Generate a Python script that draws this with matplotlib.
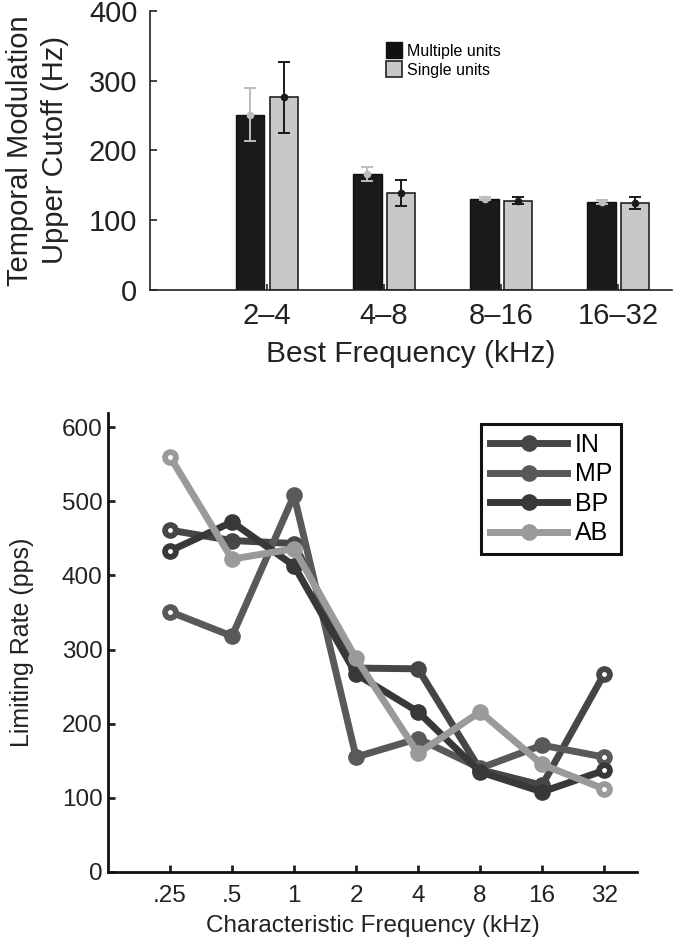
import numpy as np
import matplotlib.pyplot as plt
from matplotlib.patches import Patch

plt.rcParams['font.family'] = ['Liberation Sans', 'DejaVu Sans']

# top panel: upper cutoff by best frequency band
bands = ['2\u20134', '4\u20138', '8\u201316', '16\u201332']
multi = [251, 166, 131, 126]
multi_err = [38, 10, 2, 3]
single = [276, 139, 128, 124.5]
single_err = [51, 19, 5.5, 8]

# bottom panel: limiting rate by characteristic frequency
cf_labels = ['.25', '.5', '1', '2', '4', '8', '16', '32']
rate_IN = [461, 447, 443, 275, 274, 138, 117, 267]
rate_MP = [351, 318, 508, 155, 180, 140, 171, 155]
rate_BP = [433, 472, 413, 267, 216, 135, 108, 137]
rate_AB = [560, 422, 436, 288, 160, 216, 145, 112]

fig = plt.figure(figsize=(6.76, 9.40), dpi=100)

# ---- top bar chart ----
ax1 = fig.add_axes([150 / 676, 1 - 290 / 940, 522 / 676, 279.3 / 940])
x = np.arange(1, len(bands) + 1)
w = 0.24
off = 0.142
ax1.bar(x - off, multi, w, color='#1a1a1a', edgecolor='#111111', linewidth=1)
ax1.bar(x + off, single, w, color='#c8c8c8', edgecolor='#222222', linewidth=1.2)
ax1.errorbar(x - off, multi, yerr=multi_err, fmt='o', color='#bdbdbd', ms=4.5,
             capsize=4, elinewidth=1.4, capthick=1.4)
ax1.errorbar(x + off, single, yerr=single_err, fmt='o', color='#1a1a1a', ms=4.5,
             capsize=4, elinewidth=1.4, capthick=1.4)
ax1.set_xlim(0, 4.46)
ax1.set_ylim(0, 400)
ax1.set_xticks(x)
ax1.set_xticklabels(bands)
ax1.set_yticks([0, 100, 200, 300, 400])
for s in ('top', 'right'):
    ax1.spines[s].set_visible(False)
for s in ('left', 'bottom'):
    ax1.spines[s].set_linewidth(1.2)
    ax1.spines[s].set_color('#222222')
ax1.tick_params(axis='both', direction='in', labelsize=21, colors='#222222', width=1.2)
ax1.tick_params(axis='y', length=5, pad=9)
ax1.tick_params(axis='x', length=4, pad=9)
ax1.set_xlabel('Best Frequency (kHz)', fontsize=21.5, color='#222222', labelpad=7)
ax1.set_ylabel('Temporal Modulation\nUpper Cutoff (Hz)', fontsize=21, color='#222222',
               linespacing=1.3)
ax1.yaxis.set_label_coords(-0.156, 0.5)
handles = [Patch(facecolor='#111111', edgecolor='#111111'),
           Patch(facecolor='#c8c8c8', edgecolor='#222222', linewidth=1.2)]
ax1.legend(handles, ['Multiple units', 'Single units'], frameon=False, fontsize=11.5,
           handlelength=1.0, handleheight=1.2, handletextpad=0.3, labelspacing=0.15,
           borderpad=0, borderaxespad=0, loc='upper left',
           bbox_to_anchor=((386 - 150) / 522, (290 - 42) / 279.3))

# ---- bottom line chart ----
ax2 = fig.add_axes([108 / 676, 1 - 872 / 940, 529 / 676, 459 / 940])
xi = np.arange(1, len(cf_labels) + 1)
series = [('IN', rate_IN, '#464646'), ('MP', rate_MP, '#595959'),
          ('BP', rate_BP, '#383838'), ('AB', rate_AB, '#9a9a9a')]
for name, vals, col in series:
    ax2.plot(xi, vals, '-o', color=col, lw=5, ms=12, mew=0, mfc=col, label=name)
    # open ends: small hole at the first and last points
    ax2.plot(xi[[0, -1]], np.array(vals)[[0, -1]], 'o', color='white', ms=3.5, mew=0)
ax2.set_xlim(0, 8.53)
ax2.set_ylim(0, 619)
ax2.set_xticks(xi)
ax2.set_xticklabels(cf_labels)
ax2.set_yticks(np.arange(0, 700, 100))
for s in ('top', 'right'):
    ax2.spines[s].set_visible(False)
for s in ('left', 'bottom'):
    ax2.spines[s].set_linewidth(2)
    ax2.spines[s].set_color('#111111')
ax2.tick_params(axis='both', direction='in', labelsize=17.5, colors='#222222',
                width=2, length=5)
ax2.tick_params(axis='x', pad=9)
ax2.tick_params(axis='y', pad=4)
ax2.set_xlabel('Characteristic Frequency (kHz)', fontsize=17.5, color='#222222', labelpad=6)
ax2.set_ylabel('Limiting Rate (pps)', fontsize=18, color='#222222')
ax2.yaxis.set_label_coords(-0.14, 0.5)
leg = ax2.legend(loc='upper right', bbox_to_anchor=((621 - 108) / 529, (872 - 424) / 459),
                 fontsize=18, handlelength=3.1, handletextpad=0.3, labelspacing=0.22,
                 borderpad=0.35, borderaxespad=0, fancybox=False, framealpha=1)
leg.get_frame().set_edgecolor('#111111')
leg.get_frame().set_linewidth(2.2)

fig.savefig('out.png', dpi=100)
